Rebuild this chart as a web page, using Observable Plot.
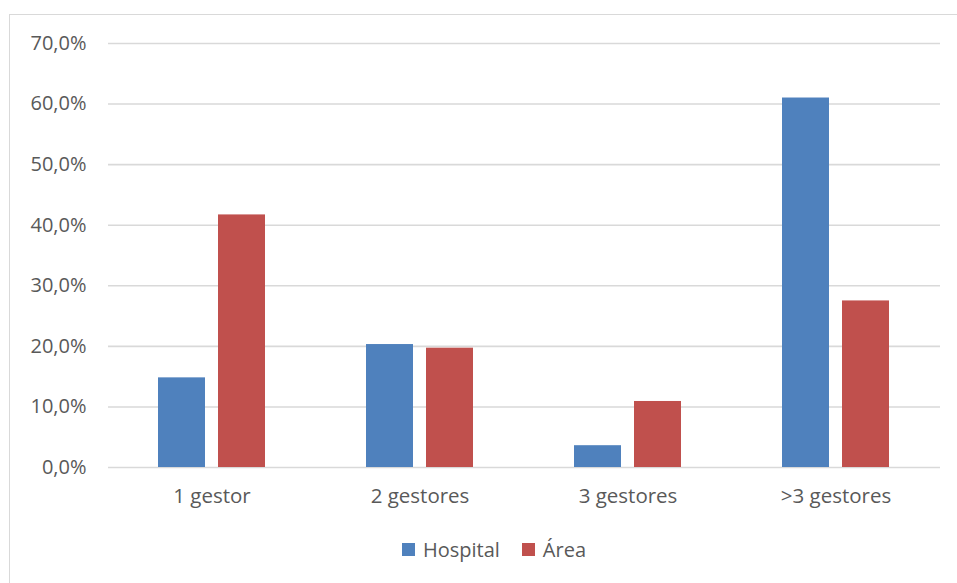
<!DOCTYPE html>
<html>
<head>
<meta charset="utf-8">
<script src="https://cdn.jsdelivr.net/npm/d3@7"></script>
<script src="https://cdn.jsdelivr.net/npm/@observablehq/plot@0.6"></script>
<style>
  html, body { margin: 0; padding: 0; background: #fff; overflow: hidden; }
  body { width: 957px; height: 583px; position: relative; font-family: "Open Sans", "Liberation Sans", sans-serif; }
  #frame { position: absolute; left: 9px; top: 14px; width: 1000px; height: 600px;
           border-left: 1.5px solid #d9d9d9; border-top: 1.5px solid #d9d9d9; }
  #chart { position: absolute; left: 0; top: 0; }
  #legend { position: absolute; left: 0; top: 536px; width: 957px; display: flex; justify-content: center;
            gap: 22px; font-size: 20px; color: #595959; padding-left: 31px; box-sizing: border-box; }
  .item { display: flex; align-items: center; gap: 8px; }
  .sw { width: 13px; height: 13px; display: inline-block; }
</style>
</head>
<body>
<div id="frame"></div>
<div id="chart"></div>
<div id="legend"></div>
<script>
// Share of respondents by number of managers
const categories = ["1 gestor", "2 gestores", "3 gestores", ">3 gestores"];
const series = ["Hospital", "Área"];
const hospital = [14.8, 20.3, 3.6, 61.0];
const area = [41.7, 19.7, 10.9, 27.5];
const yTicks = [0, 10, 20, 30, 40, 50, 60, 70];
const colors = ["#4F81BD", "#C0504D"];

const rows = categories.flatMap((c, i) => [
  {category: c, series: series[0], value: hospital[i]},
  {category: c, series: series[1], value: area[i]}
]);

const fmt = v => v.toFixed(1).replace(".", ",") + "%";

const plot = Plot.plot({
  width: 957,
  height: 510,
  marginLeft: 108,
  marginRight: 17,
  marginTop: 43,
  marginBottom: 43,
  style: {fontFamily: "'Open Sans', 'Liberation Sans', sans-serif", fontSize: "20px", color: "#595959", background: "transparent"},
  x: {domain: categories, paddingInner: 0.485, paddingOuter: 0.2425, label: null},
  y: {domain: [0, 70], ticks: yTicks, label: null},
  marks: [
    Plot.gridY(yTicks, {stroke: "#d9d9d9", strokeOpacity: 1, strokeWidth: 1.6}),
    Plot.barY(rows.filter(d => d.series === series[0]), {
      x: "category", y: "value", fill: colors[0], insetRight: 60
    }),
    Plot.barY(rows.filter(d => d.series === series[1]), {
      x: "category", y: "value", fill: colors[1], insetLeft: 60
    }),
    Plot.axisY(yTicks, {tickSize: 0, tickPadding: 22, tickFormat: fmt, fill: "#595959", fontSize: 20}),
    Plot.axisX({tickSize: 0, tickPadding: 21, fill: "#595959", fontSize: 20.5})
  ]
});
document.getElementById("chart").appendChild(plot);

const legend = document.getElementById("legend");
series.forEach((s, i) => {
  const item = document.createElement("span");
  item.className = "item";
  const sw = document.createElement("span");
  sw.className = "sw";
  sw.style.background = colors[i];
  item.appendChild(sw);
  item.appendChild(document.createTextNode(s));
  legend.appendChild(item);
});
</script>
</body>
</html>
